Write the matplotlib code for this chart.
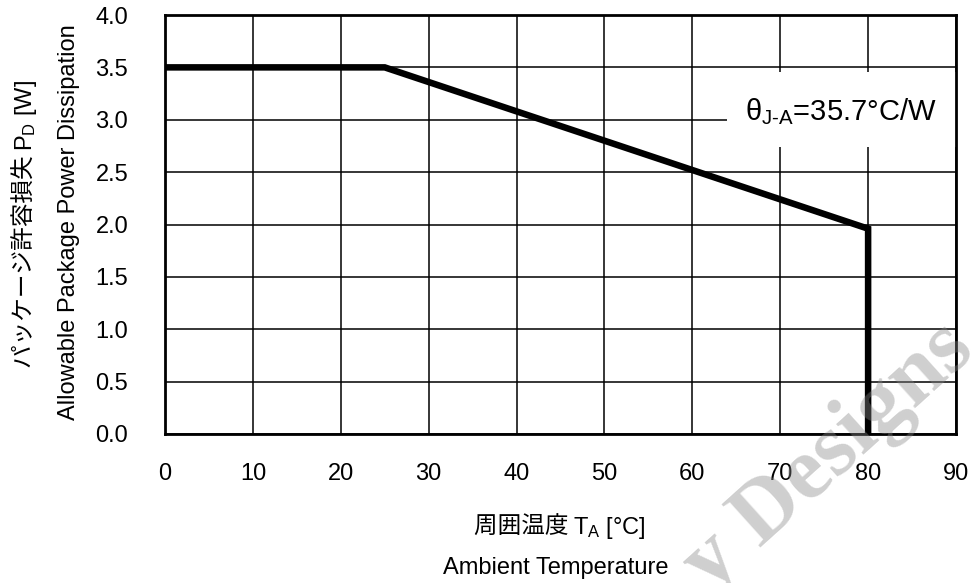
import matplotlib
matplotlib.use("Agg")
import matplotlib.pyplot as plt
from matplotlib.patches import Rectangle

plt.rcParams['font.family'] = ['Liberation Sans', 'Noto Sans CJK JP', 'DejaVu Sans']
plt.rcParams['mathtext.fontset'] = 'custom'
plt.rcParams['mathtext.rm'] = 'Liberation Sans'
plt.rcParams['mathtext.it'] = 'Liberation Sans'

# Derating curve: ambient temperature [°C] vs allowable power dissipation [W]
temp_c = [0, 25, 80, 80]
power_w = [3.5, 3.5, 1.96, 0.0]

x_ticks = [0, 10, 20, 30, 40, 50, 60, 70, 80, 90]
y_ticks = [0.0, 0.5, 1.0, 1.5, 2.0, 2.5, 3.0, 3.5, 4.0]
theta_label = "θ$_{\\mathregular{J\\text{-}A}}$=35.7°C/W"

CJK = 'Noto Sans CJK JP'
LAT = 'Liberation Sans'
FS = 17

W, H = 971, 583
fig = plt.figure(figsize=(W / 100, H / 100), dpi=100)
ax_l, ax_r, ax_t, ax_b = 165, 956, 15, 434
ax = fig.add_axes([ax_l / W, 1 - ax_b / H, (ax_r - ax_l) / W, (ax_b - ax_t) / H])

ax.set_xlim(0, 90)
ax.set_ylim(0, 4.0)
ax.set_xticks(x_ticks)
ax.set_yticks(y_ticks)
ax.set_xticklabels([str(v) for v in x_ticks])
ax.set_yticklabels([f"{v:.1f}" for v in y_ticks])
ax.tick_params(axis='both', length=0, labelsize=FS, colors='black')
ax.tick_params(axis='x', pad=21)
ax.tick_params(axis='y', pad=26.5)
ax.grid(True, color='black', linewidth=1.1)
ax.set_axisbelow(True)
for s in ax.spines.values():
    s.set_linewidth(2.0)
    s.set_color('black')
    s.set_zorder(7)

ax.plot(temp_c, power_w, color='black', linewidth=4.7, solid_joinstyle='miter',
        solid_capstyle='butt', zorder=5)


def px_to_data(px, py):
    return ((px - ax_l) / (ax_r - ax_l) * 90, 4.0 - (py - ax_t) / (ax_b - ax_t) * 4.0)


# White label panel for the thermal resistance note
x0, y0 = px_to_data(727, 147)
x1, y1 = px_to_data(ax_r, 72)
ax.add_patch(Rectangle((x0, y0), x1 - x0, y1 - y0, facecolor='white',
                       edgecolor='none', zorder=4))
tx, ty = px_to_data(841, 120)
ax.text(tx, ty, theta_label, fontsize=21, ha='center', va='baseline', zorder=6)


def place_row(pieces, center, baseline, vertical=False):
    """Lay out text pieces of mixed fonts end to end, centred on `center` (px)."""
    renderer = fig.canvas.get_renderer()
    objs = []
    widths = []
    for s, fam in pieces:
        t = fig.text(0, 0, s, fontsize=FS, family=fam, ha='left', va='baseline',
                     rotation_mode='anchor')
        widths.append(t.get_window_extent(renderer).width)
        objs.append(t)
    total = sum(widths)
    pos = center - total / 2 if not vertical else center + total / 2
    for t, w in zip(objs, widths):
        if vertical:
            t.set_rotation(90)
            t.set_position((baseline / W, 1 - pos / H))
            pos -= w
        else:
            t.set_position((pos / W, 1 - baseline / H))
            pos += w


# Axis titles (Japanese line + English line)
place_row([("周囲温度 ", CJK), ("T$_{\\mathregular{A}}$ [°C]", LAT)], 560, 534)
place_row([("Ambient Temperature", LAT)], 556, 574)
place_row([("パッケージ許容損失 ", CJK), ("P$_{\\mathregular{D}}$ [W]", LAT)], 224, 32,
          vertical=True)
place_row([("Allowable Package Power Dissipation", LAT)], 222, 75, vertical=True)

# Faint diagonal watermark
fig.text(829 / W, 1 - 457 / H, "y Designs", rotation=42, ha='center', va='center',
         fontsize=64, fontweight='bold', family='Liberation Serif',
         color='#888888', alpha=0.4, zorder=10)

fig.savefig("out.png", dpi=100, facecolor='white')
